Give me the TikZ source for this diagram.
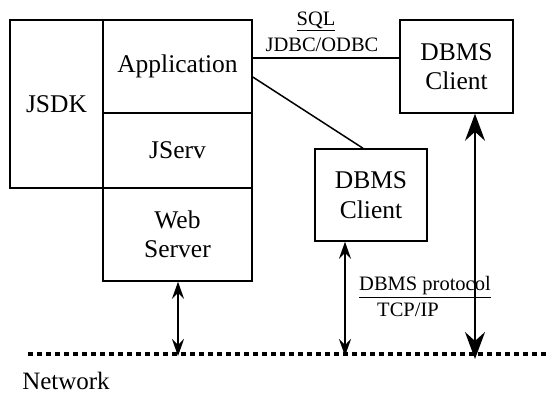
\documentclass[tikz,border=0pt]{standalone}
\usepackage{fontspec}
\setmainfont{Liberation Serif}
\usetikzlibrary{arrows.meta, positioning}

\tikzset{
  box/.style={draw, line width=1.5pt, inner sep=0pt, align=center,
    font=\fontsize{25.5}{29.5}\selectfont},
  small/.style={inner sep=0pt, font=\fontsize{20.5}{24}\selectfont},
  link/.style={line width=1.5pt},
  dblarrow/.style={line width=1.5pt, {Stealth[length=17pt,width=12pt,inset=6pt]}-{Stealth[length=17pt,width=12pt,inset=6pt]}},
  bigarrow/.style={line width=2pt, {Stealth[length=27pt,width=20pt,inset=9pt]}-{Stealth[length=27pt,width=20pt,inset=9pt]}},
  netline/.style={line width=4pt, dash pattern=on 5pt off 4pt}
}

\begin{document}
\begin{tikzpicture}[x=1pt, y=-1pt]
    \useasboundingbox (0,0) rectangle (548,394);

    % Server side stack
    \node[box, minimum width=93pt, minimum height=168pt] (jsdk) at (56.5,104) {JSDK};
    \node[box, minimum width=149pt, minimum height=93pt] (app) at (177.5,66.5) {Application};
    \node[box, minimum width=149pt, minimum height=75pt] (jserv) at (177.5,150.5) {JServ};
    \node[box, minimum width=149pt, minimum height=93pt] (web) at (177.5,234.5) {Web\\Server};

    % Database clients
    \node[box, minimum width=113pt, minimum height=93pt] (client1) at (456.5,66.5) {DBMS\\Client};
    \node[box, minimum width=112pt, minimum height=92pt] (client2) at (371,195) {DBMS\\Client};

    % Network
    \coordinate (netL) at (28,354);
    \coordinate (netR) at (548,354);
    \draw[netline] (netL) -- (netR);
    \node[small, font=\fontsize{25}{29}\selectfont] (network) at (66,381) {Network};

    % Application to clients
    \draw[link] ([yshift=8.5pt]app.east) -- ([yshift=8.5pt]client1.west);
    \draw[link] ([yshift=-10.5pt]app.east) -- ([xshift=-8pt]client2.north);
    \node[small] (sql) at (316,21) {\underline{SQL}};
    \node[small] (jdbc) at (322,45) {JDBC/ODBC};

    % Links to the network
    \draw[dblarrow] ([xshift=0.5pt]web.south) -- ([xshift=0.5pt, yshift=-2pt]web.south |- netL);
    \draw[dblarrow] ([xshift=-26pt]client2.south) -- ([xshift=-26pt, yshift=-2pt]client2.south |- netL);
    \draw[bigarrow] ([xshift=18.5pt]client1.south) -- ([xshift=18.5pt, yshift=-5pt]client1.south |- netL);
    \node[small] (proto) at (425,287) {\underline{DBMS protocol}};
    \node[small] (tcp) at (408,310) {TCP/IP};
\end{tikzpicture}
\end{document}
